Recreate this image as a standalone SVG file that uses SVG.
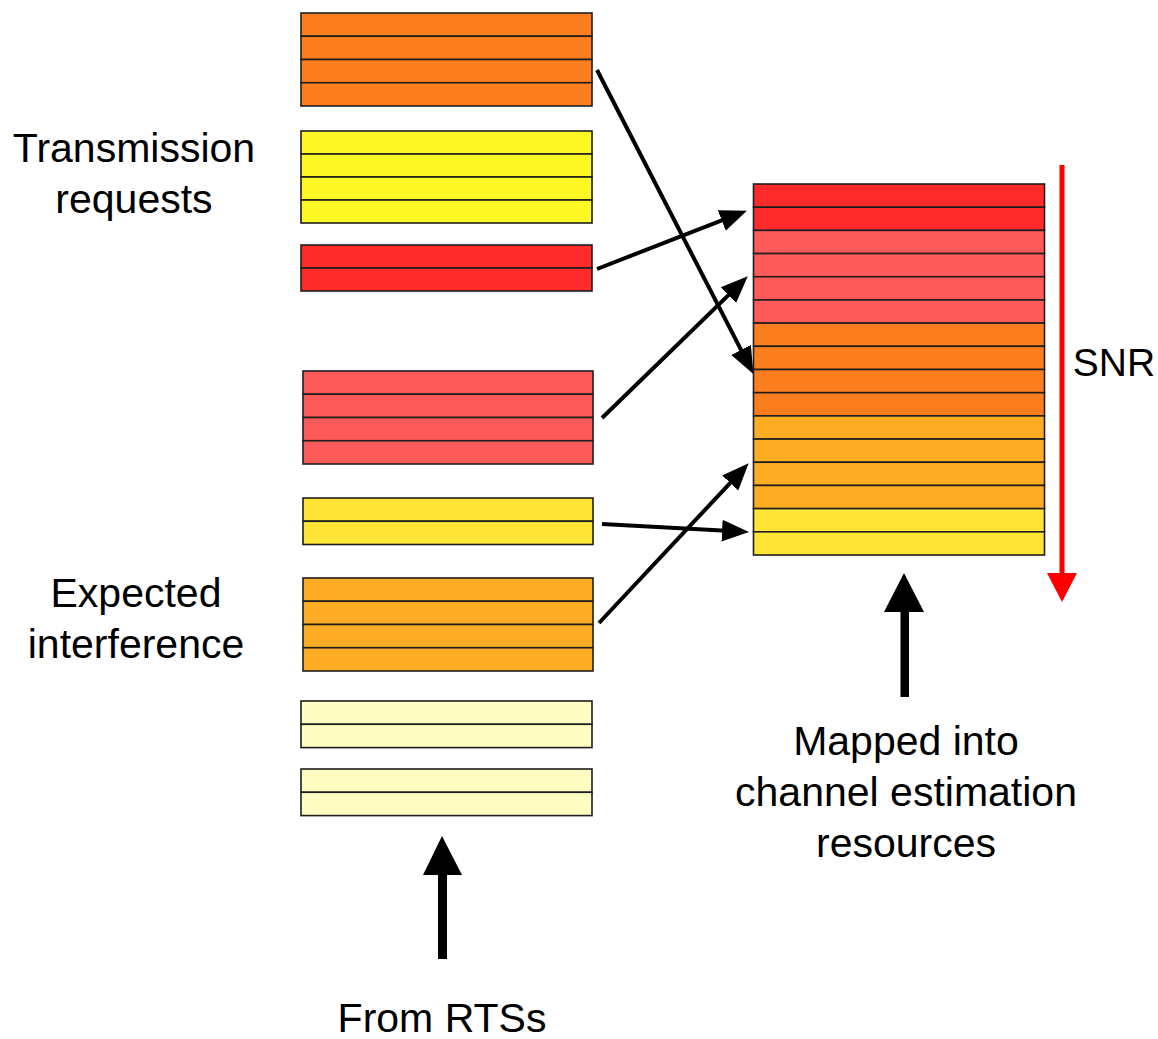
<svg xmlns="http://www.w3.org/2000/svg" width="1158" height="1039" viewBox="0 0 1158 1039">
<style>
.row{stroke:#1e1e1e;stroke-width:1.6}
.c-or{fill:#FD7E1E}.c-ye{fill:#FFF824}.c-rd{fill:#FF2A2A}.c-lr{fill:#FF5A5A}.c-y2{fill:#FFE535}.c-am{fill:#FCAD24}.c-pa{fill:#FFFDC2}
.lbl{font-family:"Liberation Sans",Arial,sans-serif;font-size:41px;fill:#000;text-anchor:middle}
.conn{stroke:#000;stroke-width:4;fill:none}
</style>
<defs>
<marker id="ah" markerUnits="userSpaceOnUse" markerWidth="28" markerHeight="24" viewBox="0 0 28 24" refX="18" refY="12" orient="auto">
<path d="M0,1 L27,12 L0,23 z" fill="#000"/>
</marker>
</defs>
<rect width="1158" height="1039" fill="#fff"/>

<g id="tx-orange">
<rect class="row c-or" x="301" y="13" width="291" height="23.25"/>
<rect class="row c-or" x="301" y="36.25" width="291" height="23.25"/>
<rect class="row c-or" x="301" y="59.5" width="291" height="23.25"/>
<rect class="row c-or" x="301" y="82.75" width="291" height="23.25"/>
</g>
<g id="tx-yellow">
<rect class="row c-ye" x="301" y="131" width="291" height="23"/>
<rect class="row c-ye" x="301" y="154" width="291" height="23"/>
<rect class="row c-ye" x="301" y="177" width="291" height="23"/>
<rect class="row c-ye" x="301" y="200" width="291" height="23"/>
</g>
<g id="tx-red">
<rect class="row c-rd" x="301" y="245" width="291" height="23"/>
<rect class="row c-rd" x="301" y="268" width="291" height="23"/>
</g>
<g id="if-lightred">
<rect class="row c-lr" x="303" y="371" width="290" height="23.25"/>
<rect class="row c-lr" x="303" y="394.25" width="290" height="23.25"/>
<rect class="row c-lr" x="303" y="417.5" width="290" height="23.25"/>
<rect class="row c-lr" x="303" y="440.75" width="290" height="23.25"/>
</g>
<g id="if-yellow">
<rect class="row c-y2" x="303" y="498" width="290" height="23.25"/>
<rect class="row c-y2" x="303" y="521.25" width="290" height="23.25"/>
</g>
<g id="if-amber">
<rect class="row c-am" x="303" y="578" width="290" height="23.25"/>
<rect class="row c-am" x="303" y="601.25" width="290" height="23.25"/>
<rect class="row c-am" x="303" y="624.5" width="290" height="23.25"/>
<rect class="row c-am" x="303" y="647.75" width="290" height="23.25"/>
</g>
<g id="if-pale1">
<rect class="row c-pa" x="301" y="701" width="291" height="23.3"/>
<rect class="row c-pa" x="301" y="724.3" width="291" height="23.3"/>
</g>
<g id="if-pale2">
<rect class="row c-pa" x="301" y="769" width="291" height="23.3"/>
<rect class="row c-pa" x="301" y="792.3" width="291" height="23.3"/>
</g>

<g id="resources">
<rect class="row c-rd" x="753.5" y="184" width="291" height="23.19"/>
<rect class="row c-rd" x="753.5" y="207.19" width="291" height="23.19"/>
<rect class="row c-lr" x="753.5" y="230.38" width="291" height="23.19"/>
<rect class="row c-lr" x="753.5" y="253.56" width="291" height="23.19"/>
<rect class="row c-lr" x="753.5" y="276.75" width="291" height="23.19"/>
<rect class="row c-lr" x="753.5" y="299.94" width="291" height="23.19"/>
<rect class="row c-or" x="753.5" y="323.13" width="291" height="23.19"/>
<rect class="row c-or" x="753.5" y="346.31" width="291" height="23.19"/>
<rect class="row c-or" x="753.5" y="369.5" width="291" height="23.19"/>
<rect class="row c-or" x="753.5" y="392.69" width="291" height="23.19"/>
<rect class="row c-am" x="753.5" y="415.88" width="291" height="23.19"/>
<rect class="row c-am" x="753.5" y="439.06" width="291" height="23.19"/>
<rect class="row c-am" x="753.5" y="462.25" width="291" height="23.19"/>
<rect class="row c-am" x="753.5" y="485.44" width="291" height="23.19"/>
<rect class="row c-y2" x="753.5" y="508.63" width="291" height="23.19"/>
<rect class="row c-y2" x="753.5" y="531.81" width="291" height="23.19"/>
</g>

<g id="connectors">
<line class="conn" x1="597" y1="70" x2="749.3" y2="365.9" marker-end="url(#ah)"/>
<line class="conn" x1="597" y1="269" x2="738.5" y2="213.9" marker-end="url(#ah)"/>
<line class="conn" x1="602" y1="418" x2="741.3" y2="282.6" marker-end="url(#ah)"/>
<line class="conn" x1="602" y1="524" x2="740" y2="531.6" marker-end="url(#ah)"/>
<line class="conn" x1="599" y1="623" x2="742.5" y2="469.8" marker-end="url(#ah)"/>
</g>

<g id="snr-arrow">
<line x1="1062" y1="165" x2="1062" y2="576" stroke="#FF0000" stroke-width="5"/>
<polygon points="1047,573 1077,573 1062,602" fill="#FF0000"/>
</g>
<g id="map-arrow">
<rect x="900.5" y="610" width="8.5" height="87" fill="#000"/>
<polygon points="884,612 924,612 904,573" fill="#000"/>
</g>
<g id="rts-arrow">
<rect x="438" y="873" width="9" height="86" fill="#000"/>
<polygon points="423,875 462,875 442,836" fill="#000"/>
</g>

<g id="labels">
<text class="lbl" x="134" y="162">Transmission</text>
<text class="lbl" x="134" y="213">requests</text>
<text class="lbl" x="136" y="607">Expected</text>
<text class="lbl" x="136" y="658">interference</text>
<text class="lbl" x="906" y="755">Mapped into</text>
<text class="lbl" x="906" y="806">channel estimation</text>
<text class="lbl" x="906" y="857">resources</text>
<text class="lbl" x="1114" y="376" style="font-size:39px">SNR</text>
<text class="lbl" x="442" y="1032">From RTSs</text>
</g>
</svg>
